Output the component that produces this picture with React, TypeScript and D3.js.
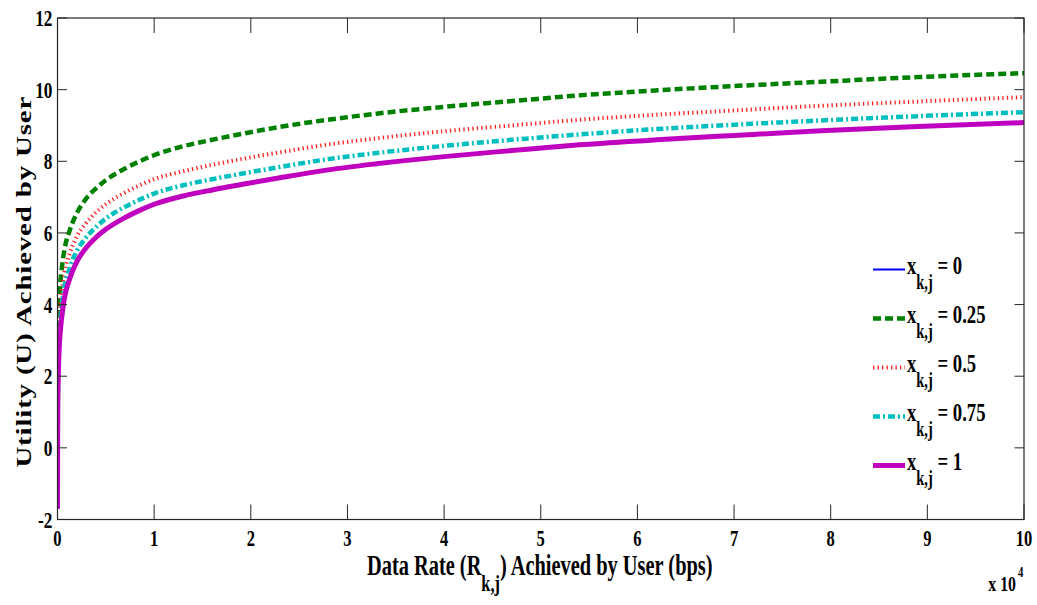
import React, { useEffect, useRef } from 'react';
import * as d3 from 'd3';

// data rate in units of 10^4 bps
const rates = [0.0001, 0.0005, 0.002, 0.005, 0.01, 0.02, 0.04, 0.07, 0.13, 0.2, 0.28, 0.4, 0.5, 0.7, 0.85, 1, 1.3, 1.6, 1.9, 2.3, 2.8, 3.3, 4, 4.7, 5.4, 6.2, 7, 7.9, 8.9, 10];

const utilX0 = [-1.7, -0.8, 0.6, 1.5, 2.2, 2.9, 3.55, 4.15, 4.75, 5.2, 5.53, 5.88, 6.1, 6.43, 6.63, 6.8, 7.03, 7.2, 7.35, 7.54, 7.76, 7.93, 8.13, 8.3, 8.46, 8.6, 8.72, 8.85, 8.97, 9.08];
const utilX025 = [-0.4, 0.55, 1.95, 2.85, 3.55, 4.25, 4.9, 5.5, 6.1, 6.55, 6.9, 7.25, 7.47, 7.8, 8.0, 8.17, 8.42, 8.6, 8.76, 8.96, 9.16, 9.33, 9.52, 9.68, 9.84, 9.98, 10.1, 10.22, 10.35, 10.46];
const utilX05 = [-1.0, -0.1, 1.3, 2.2, 2.9, 3.6, 4.25, 4.85, 5.45, 5.9, 6.22, 6.58, 6.8, 7.13, 7.33, 7.5, 7.72, 7.9, 8.06, 8.25, 8.47, 8.64, 8.84, 9.0, 9.16, 9.3, 9.42, 9.55, 9.67, 9.79];
const utilX075 = [-1.4, -0.5, 0.9, 1.8, 2.5, 3.2, 3.85, 4.45, 5.05, 5.5, 5.82, 6.17, 6.4, 6.73, 6.93, 7.1, 7.33, 7.5, 7.65, 7.84, 8.06, 8.23, 8.43, 8.6, 8.75, 8.9, 9.02, 9.14, 9.26, 9.37];
const utilX1 = [-1.7, -0.8, 0.6, 1.5, 2.2, 2.9, 3.55, 4.15, 4.75, 5.2, 5.53, 5.88, 6.1, 6.43, 6.63, 6.8, 7.03, 7.2, 7.35, 7.54, 7.76, 7.93, 8.13, 8.3, 8.46, 8.6, 8.72, 8.85, 8.97, 9.08];

const legendValues = ['0', '0.25', '0.5', '0.75', '1'];
const xTicks = [0, 1, 2, 3, 4, 5, 6, 7, 8, 9, 10];
const yTicks = [-2, 0, 2, 4, 6, 8, 10, 12];

const series = [
  { values: utilX0, color: '#0000ff', width: 2, dash: null },
  { values: utilX025, color: '#008000', width: 4.5, dash: '8,4' },
  { values: utilX05, color: '#ff2020', width: 4, dash: '1.3,3.2' },
  { values: utilX075, color: '#00bfbf', width: 4.5, dash: '7,3,2,3' },
  { values: utilX1, color: '#bf00bf', width: 5, dash: null },
];

const FONT = '"Liberation Serif", "Times New Roman", serif';
const SQ = 0.72; // horizontal squeeze of the original raster

const App = () => {
  const svgRef = useRef(null);
  const width = 1037;
  const height = 605;

  useEffect(() => {
    const svg = d3.select(svgRef.current);
    svg.selectAll('*').remove();

    const margin = { top: 18, right: 13, bottom: 85.5, left: 57.5 };
    const innerWidth = width - margin.left - margin.right;
    const innerHeight = height - margin.top - margin.bottom;

    const xScale = d3.scaleLinear().domain([0, 10]).range([0, innerWidth]);
    const yScale = d3.scaleLinear().domain([-2, 12]).range([innerHeight, 0]);

    const g = svg.append('g').attr('transform', `translate(${margin.left},${margin.top})`);

    svg.append('defs').append('clipPath').attr('id', 'plotclip')
      .append('rect').attr('width', innerWidth).attr('height', innerHeight);

    const line = d3.line()
      .x((d, i) => xScale(rates[i]))
      .y(d => yScale(d))
      .curve(d3.curveMonotoneX);

    const lines = g.append('g').attr('clip-path', 'url(#plotclip)');
    series.forEach(s => {
      lines.append('path')
        .attr('d', line(s.values))
        .attr('fill', 'none')
        .attr('stroke', s.color)
        .attr('stroke-width', s.width)
        .attr('stroke-dasharray', s.dash)
        .attr('stroke-linejoin', 'round');
    });

    // box + ticks
    const axisColor = '#262626';
    g.append('rect')
      .attr('width', innerWidth).attr('height', innerHeight)
      .attr('fill', 'none').attr('stroke', axisColor).attr('stroke-width', 1.2);

    xTicks.forEach(t => {
      const x = xScale(t);
      g.append('line').attr('x1', x).attr('x2', x).attr('y1', innerHeight).attr('y2', innerHeight - 15)
        .attr('stroke', axisColor);
      g.append('line').attr('x1', x).attr('x2', x).attr('y1', 0).attr('y2', 15)
        .attr('stroke', axisColor);
      g.append('text')
        .attr('transform', `translate(${x},${innerHeight + 26}) scale(${SQ},1)`)
        .attr('text-anchor', 'middle')
        .attr('font-family', FONT).attr('font-size', 23).attr('font-weight', 'bold')
        .text(t);
    });

    yTicks.forEach(t => {
      const y = yScale(t);
      g.append('line').attr('x1', 0).attr('x2', 9.5).attr('y1', y).attr('y2', y).attr('stroke', axisColor);
      g.append('line').attr('x1', innerWidth).attr('x2', innerWidth - 9.5).attr('y1', y).attr('y2', y).attr('stroke', axisColor);
      g.append('text')
        .attr('transform', `translate(-5,${y + 8}) scale(${SQ},1)`)
        .attr('text-anchor', 'end')
        .attr('font-family', FONT).attr('font-size', 24).attr('font-weight', 'bold')
        .text(t);
    });

    // x 10^4 exponent
    svg.append('text')
      .attr('transform', `translate(1016,591) scale(${SQ},1)`)
      .attr('text-anchor', 'end')
      .attr('font-family', FONT).attr('font-size', 22).attr('font-weight', 'bold')
      .text('x 10');
    svg.append('text')
      .attr('transform', `translate(1018,577) scale(${SQ},1)`)
      .attr('font-family', FONT).attr('font-size', 15).attr('font-weight', 'bold')
      .text('4');

    // x label
    const xl = svg.append('text')
      .attr('transform', `translate(${margin.left + innerWidth * 0.5 - 1},575) scale(0.68,1)`)
      .attr('text-anchor', 'middle')
      .attr('font-family', FONT).attr('font-size', 30).attr('font-weight', 'bold');
    xl.append('tspan').text('Data Rate (R');
    xl.append('tspan').attr('font-size', 24).attr('dy', 16).text('k,j');
    xl.append('tspan').attr('dy', -16).text(') Achieved by User (bps)');

    // y label
    svg.append('text')
      .attr('transform', `translate(31,${margin.top + innerHeight * 0.5 + 13}) scale(0.72,1) rotate(-90)`)
      .attr('text-anchor', 'middle')
      .attr('font-family', FONT).attr('font-size', 29).attr('font-weight', 'bold')
      .attr('letter-spacing', 0.8)
      .text('Utility (U) Achieved by User');

    // legend
    const legend = svg.selectAll('.legend')
      .data(series)
      .enter().append('g')
      .attr('class', 'legend')
      .attr('transform', (d, i) => `translate(873, ${269.5 + i * 49})`);

    legend.append('line')
      .attr('x1', 0).attr('x2', 32)
      .attr('stroke', d => d.color)
      .attr('stroke-width', d => d.width)
      .attr('stroke-dasharray', d => d.dash);

    const lt = legend.append('text')
      .attr('transform', `translate(34,4) scale(${SQ},1)`)
      .attr('font-family', FONT).attr('font-size', 26).attr('font-weight', 'bold');
    lt.append('tspan').text('x');
    lt.append('tspan').attr('font-size', 20).attr('dy', 15).text('k,j');
    lt.append('tspan').attr('dy', -15).text((d, i) => ` = ${legendValues[i]}`);
  }, []);

  return (
    <svg ref={svgRef} width={width} height={height}
      style={{ position: 'absolute', left: 0, top: 0, background: '#fff' }} />
  );
};

export default App;
